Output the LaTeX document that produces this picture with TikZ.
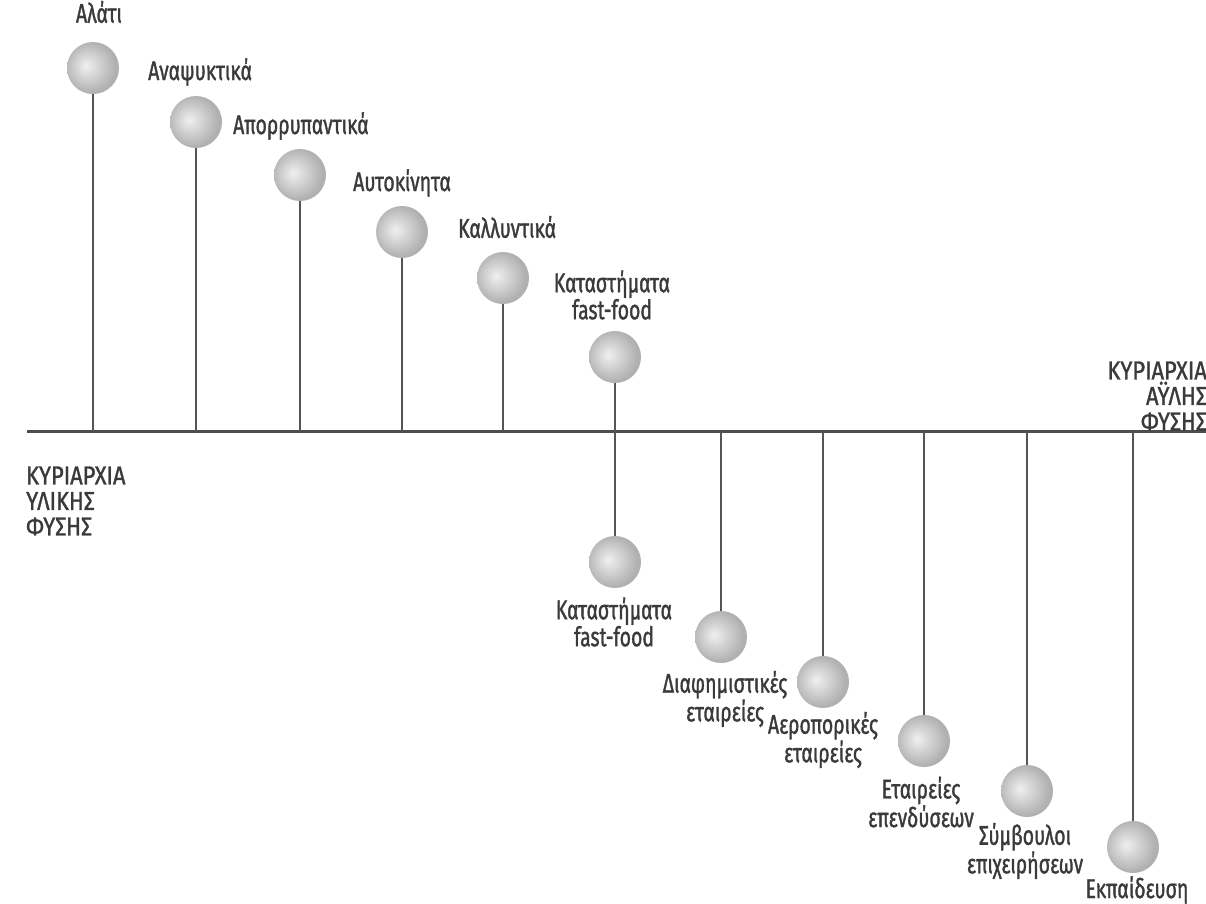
\documentclass[tikz,border=0pt]{standalone}
\usepackage{fontspec}
\setmainfont{Fira Sans}[FakeStretch=0.72, FakeBold=1.2]
\newfontfamily\axfont{Fira Sans}[FakeStretch=0.84, FakeBold=1.2]
\definecolor{txt}{HTML}{3A3A3A}
\definecolor{linec}{HTML}{555555}
\pgfdeclareradialshading{softball}{\pgfpoint{-7bp}{2bp}}{%
  color(0bp)=(gray!12); color(10bp)=(gray!32); color(20bp)=(gray!52);
  color(25bp)=(gray!62); color(50bp)=(gray!62)}
\tikzset{
  sph/.style={circle, minimum size=52pt, inner sep=0pt, shading=softball},
  stem/.style={draw=linec, line width=1.4pt},
  axisline/.style={draw=txt!90, line width=3pt},
  lab/.style={font=\fontsize{27}{25.5}\selectfont, text=txt, inner sep=0pt, align=center},
  axlab/.style={font=\axfont\fontsize{26}{25.5}\selectfont, text=txt, inner sep=0pt},
}
\begin{document}
\begin{tikzpicture}[x=1pt,y=-1pt]
\clip (0,0) rectangle (1206,903);
\fill[white] (0,0) rectangle (1206,903);
% axis
\coordinate (axL) at (27,431);
\coordinate (axR) at (1206,431);
\draw[axisline] (axL) -- (axR);
% upper spheres
\node[sph] (s1) at (93,68) {};
\node[sph] (s2) at (196,122) {};
\node[sph] (s3) at (300,175) {};
\node[sph] (s4) at (402,232) {};
\node[sph] (s5) at (503,278) {};
\node[sph] (s6) at (615,357) {};
% lower spheres
\node[sph] (t1) at (615,562) {};
\node[sph] (t2) at (721,637) {};
\node[sph] (t3) at (823,682) {};
\node[sph] (t4) at (924,741) {};
\node[sph] (t5) at (1027,791) {};
\node[sph] (t6) at (1133,847) {};
% stems
\foreach \s in {s1,s2,s3,s4,s5,s6}{
  \draw[stem] (\s.south) -- (\s.south |- axL);
}
\foreach \s in {t1,t2,t3,t4,t5,t6}{
  \draw[stem] (\s.north |- axL) -- (\s.north);
}
% upper labels
\node[lab] (l1) at (99,12) {Αλάτι};
\node[lab, anchor=west] (l2) at (148,72) {Αναψυκτικά};
\node[lab, anchor=west] (l3) at (233,126) {Απορρυπαντικά};
\node[lab, anchor=west] (l4) at (353,183) {Αυτοκίνητα};
\node[lab, anchor=west] (l5) at (458,227) {Καλλυντικά};
\node[lab] (l6) at (612,295) {Καταστήματα\\fast-food};
% lower labels
\node[lab] (m1) at (614,622) {Καταστήματα\\fast-food};
\node[lab] (m2) at (725,699) {Διαφημιστικές\\εταιρείες};
\node[lab] (m3) at (823,740) {Αεροπορικές\\εταιρείες};
\node[lab] (m4) at (921,802) {Εταιρείες\\επενδύσεων};
\node[lab] (m5) at (1025,851) {Σύμβουλοι\\επιχειρήσεων};
\node[lab] (m6) at (1137,890) {Εκπαίδευση};
% axis end labels
\node[axlab, align=left, anchor=west] (ll) at (26,501) {ΚΥΡΙΑΡΧΙΑ\\ΥΛΙΚΗΣ\\ΦΥΣΗΣ};
\node[axlab, align=right, anchor=east] (rl) at (1207,396) {ΚΥΡΙΑΡΧΙΑ\\ΑΫΛΗΣ\\ΦΥΣΗΣ};
\end{tikzpicture}
\end{document}
